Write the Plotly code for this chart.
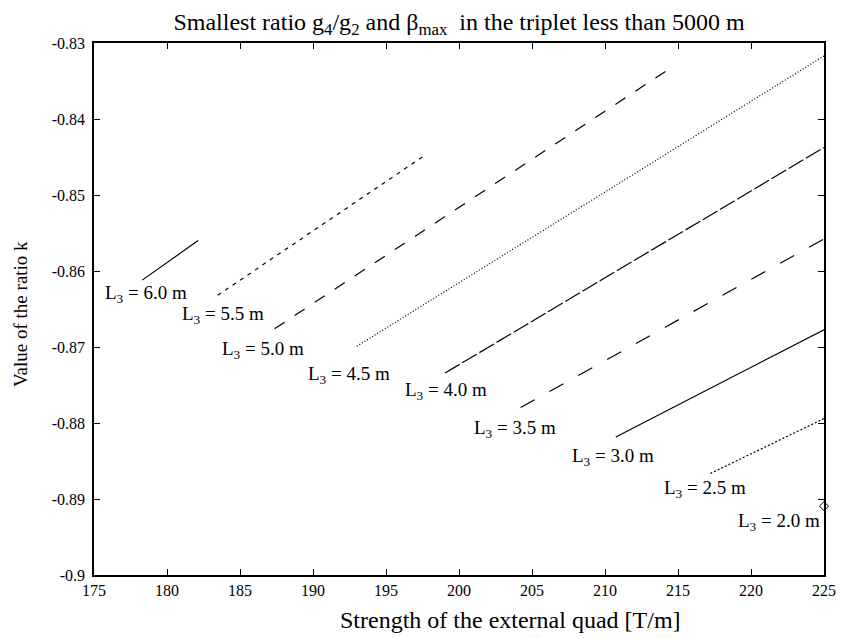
import plotly.graph_objects as go

# Line data: (start, end) of each L3 curve
L3_names = ["6.0", "5.5", "5.0", "4.5", "4.0", "3.5", "3.0", "2.5"]
x_start = [178.3, 183.47, 187.37, 193.0, 199.04, 204.22, 210.74, 217.22]
y_start = [-0.8612, -0.8632, -0.8676, -0.8699, -0.87343, -0.87797, -0.88184, -0.88664]
x_end = [182.13, 197.72, 214.57, 225.0, 225.0, 225.0, 225.0, 225.0]
y_end = [-0.8560, -0.8447, -0.8332, -0.8317, -0.84375, -0.85578, -0.86773, -0.87942]

# Single point for L3 = 2.0 m
x_pt = [225.0]
y_pt = [-0.89094]

# Text labels
label_text = ["L<sub>3</sub> = 6.0 m", "L<sub>3</sub> = 5.5 m", "L<sub>3</sub> = 5.0 m",
              "L<sub>3</sub> = 4.5 m", "L<sub>3</sub> = 4.0 m", "L<sub>3</sub> = 3.5 m",
              "L<sub>3</sub> = 3.0 m", "L<sub>3</sub> = 2.5 m", "L<sub>3</sub> = 2.0 m"]
label_x = [175.6, 180.92, 183.65, 189.53, 196.15, 200.87, 207.6, 213.87, 218.95]
label_y = [-0.8630, -0.86585, -0.87045, -0.87373, -0.8758, -0.88073, -0.88446, -0.88874, -0.8930]

x_ticks = [175, 180, 185, 190, 195, 200, 205, 210, 215, 220, 225]
y_ticks = [-0.9, -0.89, -0.88, -0.87, -0.86, -0.85, -0.84, -0.83]
y_ticktext = ["-0.9", "-0.89", "-0.88", "-0.87", "-0.86", "-0.85", "-0.84", "-0.83"]

dashes = ["solid", "4px,5px", "12px,12px", "1px,2px", "17px,3px", "16px,17px", "solid", "2px,2px"]

FONT = "Liberation Serif, Times New Roman, serif"
W, H = 841, 638
L, R, T, B = 94, 17, 43, 63

fig = go.Figure()
for i, n in enumerate(L3_names):
    fig.add_trace(go.Scatter(
        x=[x_start[i], x_end[i]], y=[y_start[i], y_end[i]],
        mode="lines", name="L3 = " + n + " m",
        line=dict(color="black", width=1.2, dash=dashes[i]),
        showlegend=False))

fig.add_trace(go.Scatter(
    x=x_pt, y=y_pt, mode="markers",
    marker=dict(symbol="diamond-open", size=7, color="black", line=dict(width=1)),
    showlegend=False, cliponaxis=False))

for t, lx, ly in zip(label_text, label_x, label_y):
    fig.add_annotation(x=lx, y=ly, xref="x", yref="y", text=t, showarrow=False,
                       xanchor="left", yanchor="middle",
                       font=dict(family=FONT, size=19, color="black"))

pw, ph = W - L - R, H - T - B
# x-axis title (placed as in the reference, slightly right of the plot centre)
fig.add_annotation(x=(510 - L) / pw, y=-(620 - (H - B)) / ph, xref="paper", yref="paper",
                   text="Strength of the external quad [T/m]", showarrow=False,
                   xanchor="center", yanchor="middle",
                   font=dict(family=FONT, size=24, color="black"))
# y-axis title
fig.add_annotation(x=-(L - 20) / pw, y=1 - (314 - T) / ph, xref="paper", yref="paper",
                   text="Value of the ratio k", showarrow=False, textangle=-90,
                   xanchor="center", yanchor="middle",
                   font=dict(family=FONT, size=19, color="black"))

fig.update_layout(
    width=W, height=H,
    margin=dict(l=L, r=R, t=T, b=B, autoexpand=False),
    paper_bgcolor="white", plot_bgcolor="white",
    font=dict(family=FONT, size=16, color="black"),
    title=dict(text="Smallest ratio g<sub>4</sub>/g<sub>2</sub> and β<sub>max</sub>\u00a0 in the triplet less than 5000 m",
               xref="container", yref="container", x=459 / W, y=1 - 22 / H,
               xanchor="center", yanchor="middle",
               font=dict(family=FONT, size=24, color="black")),
    xaxis=dict(range=[175, 225], tickvals=x_ticks, ticks="inside", ticklen=6,
               tickwidth=1, tickcolor="black", showgrid=False, zeroline=False,
               showline=True, linecolor="black", linewidth=1.5, mirror="ticks",
               tickfont=dict(family=FONT, size=16)),
    yaxis=dict(range=[-0.9, -0.83], tickvals=y_ticks, ticktext=y_ticktext,
               ticks="inside", ticklen=6, tickwidth=1, tickcolor="black",
               showgrid=False, zeroline=False, showline=True, linecolor="black",
               linewidth=1.5, mirror="ticks", tickfont=dict(family=FONT, size=16),
               ticklabelstandoff=4),
)

fig.write_html("out.html")
